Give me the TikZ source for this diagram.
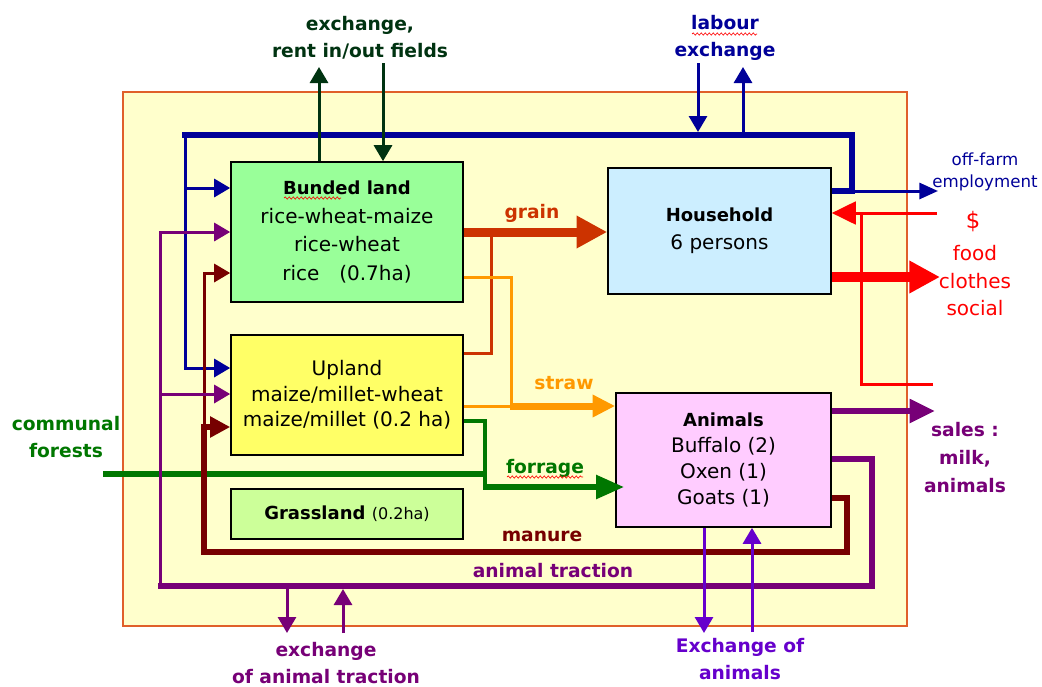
\documentclass[tikz,border=0pt]{standalone}
\usepackage{fontspec}
\setmainfont{DejaVu Sans}
\usetikzlibrary{arrows.meta,calc,decorations.pathmorphing}

\definecolor{frameFill}{HTML}{FFFFCC}
\definecolor{frameLine}{HTML}{E0602A}
\definecolor{bundFill}{HTML}{99FF99}
\definecolor{houseFill}{HTML}{CCEEFF}
\definecolor{uplFill}{HTML}{FFFF66}
\definecolor{grassFill}{HTML}{CCFF99}
\definecolor{animFill}{HTML}{FFCCFF}
\definecolor{loopblue}{HTML}{000099}
\definecolor{rentgreen}{HTML}{003311}
\definecolor{graincol}{HTML}{CC3300}
\definecolor{strawcol}{HTML}{FF9900}
\definecolor{forgreen}{HTML}{007700}
\definecolor{manurecol}{HTML}{770000}
\definecolor{tractcol}{HTML}{770077}
\definecolor{animviolet}{HTML}{6600CC}
\definecolor{moneyred}{HTML}{FF0000}

\begin{document}
\begin{tikzpicture}[x=0.75pt,y=-0.75pt,
  box/.style={draw=black, line width=1.2pt, inner sep=0pt, align=center,
              font=\fontsize{15}{19.5}\selectfont},
  lbl/.style={align=center, inner sep=0pt, font=\bfseries\fontsize{14}{20}\selectfont},
  hand/.style={align=center, inner sep=0pt},
  thinl/.style={line width=2.25pt},
  thickl/.style={line width=4.5pt},
  arrS/.style={-{Triangle[length=12pt,width=13.5pt]}},
  arrBig/.style={-{Triangle[length=23pt,width=23pt]}},
  arrStraw/.style={-{Triangle[length=17pt,width=16pt]}},
  arrForr/.style={-{Triangle[length=21pt,width=17pt]}},
  arrSales/.style={-{Triangle[length=19pt,width=17pt]}},
  arrMan/.style={-{Triangle[length=15pt,width=15pt]}},
  arrRed/.style={-{Triangle[length=18pt,width=17pt]}},
  arrOff/.style={-{Triangle[length=14pt,width=12pt]}},
  squiggle/.style={red, line width=0.5pt, decorate,
                   decoration={snake, amplitude=0.8pt, segment length=3pt}}
]
\fill[white] (0,0) rectangle (1042,686);
\useasboundingbox (0,0) rectangle (1042,686);

% the farm boundary
\node[draw=frameLine, fill=frameFill, line width=1.2pt, inner sep=0pt,
      minimum width=588pt, minimum height=400.5pt] (farm) at (515,359) {};

% free ends of the outside flows
\coordinate (rentOut)  at (319,67);
\coordinate (rentIn)   at (383,63);
\coordinate (labIn)    at (698,63);
\coordinate (labOut)   at (743,67);
\coordinate (offfarm)  at (938,191);
\coordinate (moneyIn)  at (937,213);
\coordinate (spend)    at (940,277);
\coordinate (salesMoney) at (933,384);
\coordinate (sales)    at (935,411);
\coordinate (forest)   at (103,474);
\coordinate (tractOut) at (287,633);
\coordinate (tractIn)  at (343,633);
\coordinate (animOut)  at (704,633);
\coordinate (animIn)   at (752,632);

% land units, household and herd
\node[box, fill=bundFill, minimum width=174pt, minimum height=105pt,
      font=\fontsize{15}{21.5}\selectfont] (bund) at (347,232)
  {{\bfseries\fontsize{13.5}{21.5}\selectfont Bunded land}\\rice-wheat-maize\\rice-wheat\\rice\quad(0.7ha)};
\node[box, fill=houseFill, minimum width=167.25pt, minimum height=94.5pt,
      font=\fontsize{15}{21}\selectfont] (house) at (719.5,231)
  {{\bfseries\fontsize{13.5}{21}\selectfont Household}\\6 persons};
\node[box, fill=uplFill, minimum width=174pt, minimum height=90pt,
      font=\fontsize{15}{19}\selectfont] (upl) at (347,395)
  {Upland\\maize/millet-wheat\\maize/millet (0.2 ha)};
\node[box, fill=grassFill, minimum width=174pt, minimum height=37.5pt] (grass) at (347,514)
  {{\bfseries\fontsize{13.5}{16}\selectfont Grassland} {\fontsize{12}{16}\selectfont (0.2ha)}};
\node[box, fill=animFill, minimum width=161.25pt, minimum height=100.5pt] (anim) at (723.5,460)
  {{\bfseries\fontsize{13.5}{19.5}\selectfont Animals}\\Buffalo (2)\\Oxen (1)\\Goats (1)};

% labour loop
\draw[loopblue, thickl] (house.east |- 0,191) -- (852,191) |- (182,135);
\draw[loopblue, thinl, arrS] (185,133) |- (upl.west |- 0,368);
\draw[loopblue, thinl, arrS] (185,188) -- (bund.west |- 0,188);
\draw[loopblue, thinl, arrOff] (852,191) -- (offfarm);
\draw[loopblue, thinl, arrS] (labIn) -- (698,132);
\draw[loopblue, thinl, arrS] (743,136) -- (labOut);

% exchange and renting of fields
\draw[rentgreen, thinl, arrS] (bund.north -| 319,0) -- (rentOut);
\draw[rentgreen, thinl, arrS] (rentIn) -- (bund.north -| 383,0);

% grain
\draw[graincol, line width=6.75pt, arrBig] (bund.east |- 0,232) -- (house.west |- 0,232);
\draw[graincol, thinl] (upl.east |- 0,353) -| (491,229);

% straw
\draw[strawcol, thinl] (bund.east |- 0,277) -| (511,406);
\draw[strawcol, thinl] (upl.east |- 0,406) -- (511,406);
\draw[strawcol, line width=5.25pt, arrStraw] (510,406) -- (anim.west |- 0,406);

% forage
\draw[forgreen, thickl] (forest) -- (485,474);
\draw[forgreen, line width=3pt] (upl.east |- 0,421) -| (485,487);
\draw[forgreen, thickl, arrForr] (483,487) -- ($(anim.west |- 0,487)+(9,0)$);

% manure
\draw[manurecol, thickl, arrMan] (anim.east |- 0,498) -- (847,498) |- (204,552) |- (upl.west |- 0,427);
\draw[manurecol, thinl, arrS] (204,432) |- (bund.west |- 0,273);

% animal traction
\draw[tractcol, thickl] (anim.east |- 0,459) -- (872,459) |- (158,586);
\draw[tractcol, thinl, arrS] (160,588) |- (bund.west |- 0,232);
\draw[tractcol, thinl, arrS] (160,394) -- (upl.west |- 0,394);
\draw[tractcol, thinl, arrS] (287,588) -- (tractOut);
\draw[tractcol, thinl, arrS] (tractIn) -- (343,589);
\draw[tractcol, thickl, arrSales] (anim.east |- 0,411) -- (sales);

% exchange of animals
\draw[animviolet, thinl, arrS] (anim.south -| 704,0) -- (animOut);
\draw[animviolet, thinl, arrS] (animIn) -- (anim.south -| 752,0);

% money
\draw[moneyred, thinl, arrRed] (moneyIn) -- (house.east |- 0,213);
\draw[moneyred, thinl] (salesMoney) -| (861,213);
\draw[moneyred, line width=7.5pt, arrBig] (house.east |- 0,277) -- (spend);

% flow labels
\node[lbl, text=rentgreen] (rentlbl) at (360,38) {exchange,\\rent in/out fields};
\node[lbl, text=loopblue] (labourlbl) at (725,38) {labour\\exchange};
\node[lbl, text=graincol] (grainlbl) at (532,213) {grain};
\node[lbl, text=strawcol] (strawlbl) at (564,383) {straw};
\node[lbl, text=forgreen] (forrlbl) at (545,468) {forrage};
\node[lbl, text=manurecol] (manlbl) at (542,536) {manure};
\node[lbl, text=tractcol] (tractlbl) at (553,571) {animal traction};
\node[lbl, text=forgreen] (forestlbl) at (66,437) {communal\\forests};
\node[lbl, text=tractcol] (tractexlbl) at (326,663) {exchange\\of animal traction};
\node[lbl, text=animviolet] (animexlbl) at (740,659) {Exchange of\\animals};
\node[lbl, text=tractcol, font=\bfseries\fontsize{14}{21}\selectfont] (saleslbl) at (965,458) {sales :\\milk,\\animals};
\node[hand, text=loopblue, font=\fontsize{12.5}{17}\selectfont] (offlbl) at (985,172) {off-farm\\employment};
\node[hand, text=moneyred, font=\fontsize{17}{20}\selectfont] (dollar) at (973,222) {\$};
\node[hand, text=moneyred, font=\fontsize{15}{20.6}\selectfont] (spendlbl) at (975,281) {food\\clothes\\social};

% spell-check marks under some words
\draw[squiggle] (692,34) -- (757,34);
\draw[squiggle] (284,198) -- (341,198);
\draw[squiggle] (507,477) -- (583,477);
\end{tikzpicture}
\end{document}
